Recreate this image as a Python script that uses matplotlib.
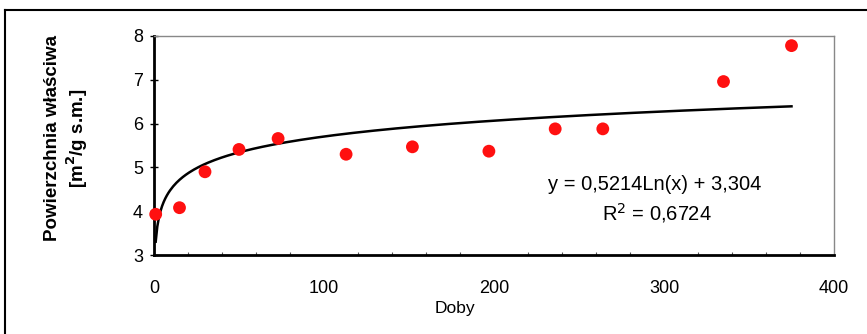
import numpy as np
import matplotlib
matplotlib.use('Agg')
import matplotlib.pyplot as plt
from matplotlib.lines import Line2D
from matplotlib.ticker import MultipleLocator

plt.rcParams['font.family'] = ['Liberation Sans', 'DejaVu Sans']

# odczyty z wykresu
doby = [1, 15, 30, 50, 73, 113, 152, 197, 236, 264, 335, 375]
powierzchnia = [3.93, 4.08, 4.90, 5.41, 5.66, 5.30, 5.47, 5.37, 5.88, 5.88, 6.96, 7.78]
# trend logarytmiczny (z rownania na wykresie)
a_coef = 0.5214
b_coef = 3.304
x_ticks = [0, 100, 200, 300, 400]
y_ticks = [3, 4, 5, 6, 7, 8]

W, H = 867, 334
fig = plt.figure(figsize=(W/100, H/100), dpi=100)
ax = fig.add_axes([154/W, 1-255/H, (834-154)/W, (255-36)/H])

xt = np.linspace(min(doby), max(doby), 400)
ax.plot(xt, a_coef*np.log(xt)+b_coef, color='black', lw=1.8, zorder=2)
ax.scatter(doby, powierzchnia, s=85, color='#ff1010', edgecolors='none', zorder=3, clip_on=False)

ax.set_xlim(0, 400)
ax.set_ylim(3, 8)
ax.set_xticks(x_ticks)
ax.set_yticks(y_ticks)
ax.xaxis.set_minor_locator(MultipleLocator(20))
ax.tick_params(axis='x', which='major', length=0, pad=18, labelsize=13)
ax.tick_params(axis='x', which='minor', direction='in', length=2, width=0.8, color='#555555')
ax.tick_params(axis='y', which='major', direction='inout', length=6, width=1, pad=5, labelsize=13)

for s in ['left', 'bottom']:
    ax.spines[s].set_linewidth(2)
    ax.spines[s].set_color('black')
for s in ['top', 'right']:
    ax.spines[s].set_linewidth(1)
    ax.spines[s].set_color('#888888')

ax.set_xlabel('Doby', fontsize=12.5)
ax.xaxis.set_label_coords(0.443, -0.21)
fig.text(67/W, 1-138/H, 'Powierzchnia właściwa\n[m$^{\\mathbf{2}}$/g s.m.]', rotation=90,
         ha='center', va='center', fontsize=13.5, fontweight='bold', linespacing=1.15)

ax.text(0.737, 0.32, 'y = 0,5214Ln(x) + 3,304', transform=ax.transAxes,
        ha='center', va='center', fontsize=14.5)
ax.text(0.74, 0.19, 'R$^2$ = 0,6724', transform=ax.transAxes,
        ha='center', va='center', fontsize=14.5)

# ramka wykresu (gora i lewa)
fig.add_artist(Line2D([5/W, 5/W], [0, 1-10/H], transform=fig.transFigure, color='black', lw=1.5))
fig.add_artist(Line2D([5/W, 1], [1-10/H, 1-10/H], transform=fig.transFigure, color='black', lw=1.5))

fig.savefig('out.png', dpi=100)
